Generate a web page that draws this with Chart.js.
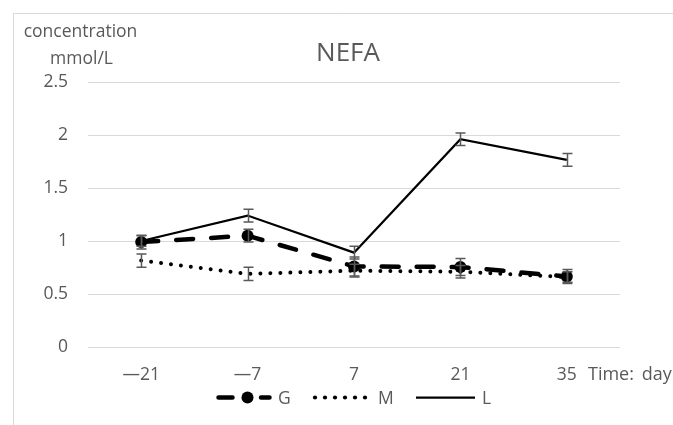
<!DOCTYPE html>
<html><head><meta charset="utf-8">
<script src="https://cdn.jsdelivr.net/npm/chart.js@4"></script>
<style>html,body{margin:0;padding:0;background:#fff;overflow:hidden}</style>
</head><body>
<canvas id="c" width="673" height="425"></canvas>
<script>
// ---- data ----
const categories = ['—21', '—7', '7', '21', '35'];
const yTicks = [0, 0.5, 1, 1.5, 2, 2.5];
const yTickLabels = ['0', '0.5', '1', '1.5', '2', '2.5'];
const seriesNames = ['G', 'M', 'L'];
const gValues = [0.99, 1.05, 0.76, 0.755, 0.665];
const gErrors = [0.065, 0.06, 0.09, 0.08, 0.065];
const mValues = [0.815, 0.69, 0.72, 0.71, 0.66];
const mErrors = [0.063, 0.063, 0.06, 0.06, 0.05];
const lValues = [1.0, 1.24, 0.89, 1.96, 1.765];
const lErrors = [0.05, 0.06, 0.06, 0.06, 0.06];
const chartTitle = 'NEFA';
const yTitle = ['concentration', 'mmol/L'];
const xTitle = 'Time: day';

const FONT = '"Open Sans", "Liberation Sans", sans-serif';
const GRAY = '#595959';

const decor = {
  id: 'decor',
  beforeDraw(chart) {
    const ctx = chart.ctx;
    ctx.save();
    ctx.fillStyle = '#fff';
    ctx.fillRect(0, 0, chart.width, chart.height);
    ctx.strokeStyle = '#d9d9d9';
    ctx.lineWidth = 1;
    ctx.beginPath();
    ctx.moveTo(13.5, chart.height);
    ctx.lineTo(13.5, 13.5);
    ctx.lineTo(chart.width, 13.5);
    ctx.stroke();
    ctx.restore();
  },
  afterDatasetsDraw(chart) {
    const ctx = chart.ctx;
    const ys = chart.scales.y;
    const errs = [gErrors, mErrors, lErrors];
    ctx.save();
    ctx.strokeStyle = GRAY;
    ctx.lineWidth = 1.5;
    chart.data.datasets.forEach((ds, di) => {
      const meta = chart.getDatasetMeta(di);
      meta.data.forEach((pt, i) => {
        const v = ds.data[i], e = errs[di][i];
        const x = Math.round(pt.x) + 0.5;
        const y1 = ys.getPixelForValue(v + e), y2 = ys.getPixelForValue(v - e);
        ctx.beginPath();
        ctx.moveTo(x, y1); ctx.lineTo(x, y2);
        ctx.moveTo(x - 5, y1); ctx.lineTo(x + 5, y1);
        ctx.moveTo(x - 5, y2); ctx.lineTo(x + 5, y2);
        ctx.stroke();
      });
    });
    ctx.restore();
  },
  afterDraw(chart) {
    const ctx = chart.ctx;
    ctx.save();
    ctx.fillStyle = GRAY;
    ctx.textBaseline = 'alphabetic';
    // title
    ctx.font = '26px ' + FONT;
    ctx.textAlign = 'center';
    ctx.fillText(chartTitle, 348, 61);
    // y axis title
    ctx.font = '17.5px ' + FONT;
    ctx.fillText(yTitle[0], 80.5, 37);
    ctx.fillText(yTitle[1], 81.5, 64);
    // x axis title
    ctx.textAlign = 'left';
    ctx.font = '18px ' + FONT;
    if ('wordSpacing' in ctx) ctx.wordSpacing = '3px';
    ctx.fillText(xTitle, 588, 380);
    if ('wordSpacing' in ctx) ctx.wordSpacing = '0px';
    // legend
    const ly = 397.5;
    ctx.strokeStyle = '#000';
    ctx.fillStyle = '#000';
    ctx.lineCap = 'round';
    ctx.lineWidth = 4.5;
    ctx.beginPath();
    ctx.moveTo(218.5, ly); ctx.lineTo(232.5, ly);
    ctx.moveTo(261, ly); ctx.lineTo(269.5, ly);
    ctx.stroke();
    ctx.beginPath(); ctx.arc(247.5, ly, 6, 0, Math.PI * 2); ctx.fill();
    for (let i = 0; i < 6; i++) {
      ctx.beginPath(); ctx.arc(315 + i * 10, ly, 2.1, 0, Math.PI * 2); ctx.fill();
    }
    ctx.lineCap = 'butt';
    ctx.lineWidth = 2.25;
    ctx.beginPath(); ctx.moveTo(416, ly); ctx.lineTo(475, ly); ctx.stroke();
    ctx.fillStyle = GRAY;
    ctx.font = '17.5px ' + FONT;
    ctx.textAlign = 'left';
    ctx.fillText(seriesNames[0], 278, 403.5);
    ctx.fillText(seriesNames[1], 378, 403.5);
    ctx.fillText(seriesNames[2], 482, 403.5);
    ctx.restore();
  }
};

new Chart(document.getElementById('c'), {
  type: 'line',
  data: {
    labels: categories,
    datasets: [
      { label: seriesNames[0], data: gValues, order: 0, borderColor: '#000', backgroundColor: '#000',
        borderWidth: 4.5, borderDash: [17, 18], borderCapStyle: 'round', tension: 0,
        pointRadius: 6, pointBackgroundColor: '#000', pointBorderWidth: 0, fill: false },
      { label: seriesNames[1], data: mValues, order: 2, borderColor: '#000', backgroundColor: '#000',
        borderWidth: 4, borderDash: [0.001, 10], borderCapStyle: 'round', tension: 0,
        pointRadius: 0, fill: false },
      { label: seriesNames[2], data: lValues, order: 1, borderColor: '#000', backgroundColor: '#000',
        borderWidth: 2.25, tension: 0, pointRadius: 0, fill: false }
    ]
  },
  options: {
    responsive: false,
    animation: false,
    devicePixelRatio: 1,
    layout: { padding: { left: 13, right: 53, top: 82, bottom: 0 } },
    plugins: { legend: { display: false }, title: { display: false }, tooltip: { enabled: false } },
    scales: {
      x: {
        type: 'category',
        offset: true,
        grid: { display: false, drawTicks: false },
        border: { display: false },
        ticks: { color: GRAY, font: { family: FONT, size: 17.5 }, padding: 18, maxRotation: 0, autoSkip: false },
        afterFit(s) { s.height = 78; }
      },
      y: {
        min: 0, max: 2.5,
        afterBuildTicks(s) { s.ticks = yTicks.map(v => ({ value: v })); },
        grid: { color: '#d9d9d9', lineWidth: 1, drawTicks: false },
        border: { display: false },
        ticks: {
          color: GRAY, font: { family: FONT, size: 17.5 }, padding: 20,
          callback(value) { const i = yTicks.indexOf(value); return i >= 0 ? yTickLabels[i] : ''; }
        },
        afterFit(s) { s.width = 75; }
      }
    }
  },
  plugins: [decor]
});
</script>
</body></html>
